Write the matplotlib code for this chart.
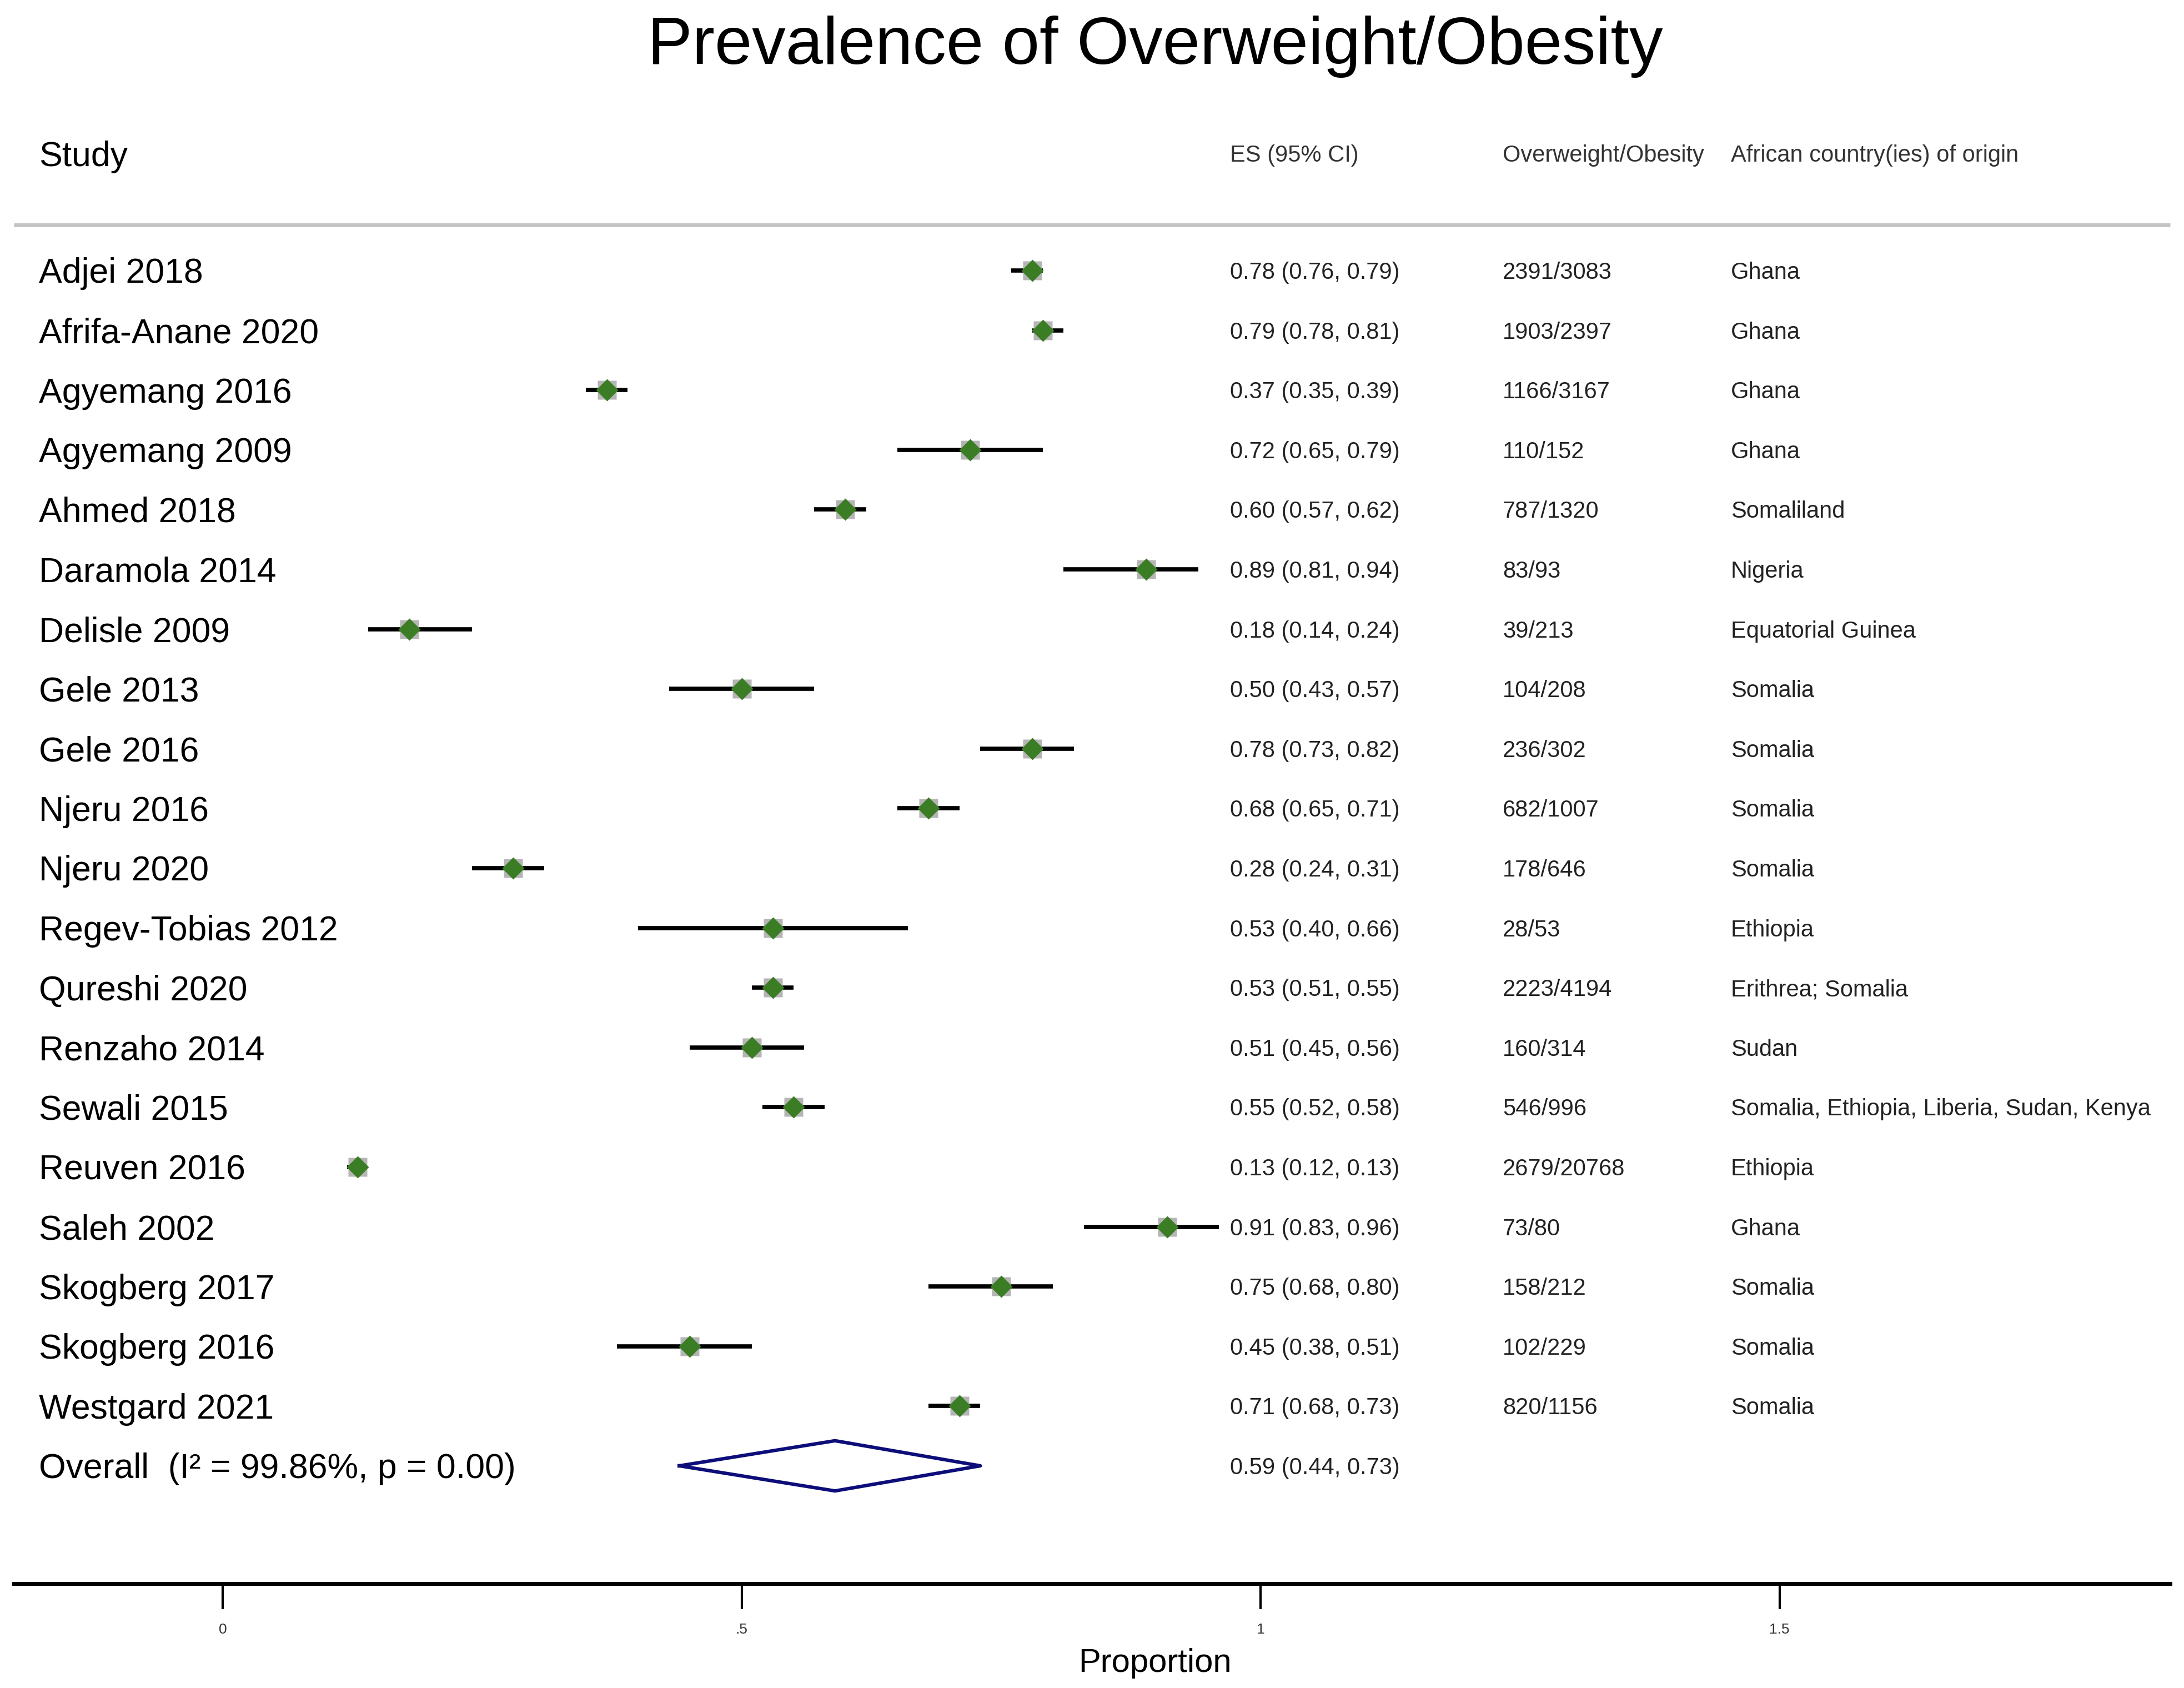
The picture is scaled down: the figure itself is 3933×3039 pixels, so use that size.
import numpy as np
import matplotlib
matplotlib.use("Agg")
from matplotlib import pyplot as plt

plt.rcParams['font.family'] = ['Liberation Sans', 'DejaVu Sans']

# study data
studies = ["Adjei 2018", "Afrifa-Anane 2020", "Agyemang 2016", "Agyemang 2009",
           "Ahmed 2018", "Daramola 2014", "Delisle 2009", "Gele 2013", "Gele 2016",
           "Njeru 2016", "Njeru 2020", "Regev-Tobias 2012", "Qureshi 2020",
           "Renzaho 2014", "Sewali 2015", "Reuven 2016", "Saleh 2002",
           "Skogberg 2017", "Skogberg 2016", "Westgard 2021"]
es = [0.78, 0.79, 0.37, 0.72, 0.60, 0.89, 0.18, 0.50, 0.78, 0.68,
      0.28, 0.53, 0.53, 0.51, 0.55, 0.13, 0.91, 0.75, 0.45, 0.71]
ci_lo = [0.76, 0.78, 0.35, 0.65, 0.57, 0.81, 0.14, 0.43, 0.73, 0.65,
         0.24, 0.40, 0.51, 0.45, 0.52, 0.12, 0.83, 0.68, 0.38, 0.68]
ci_hi = [0.79, 0.81, 0.39, 0.79, 0.62, 0.94, 0.24, 0.57, 0.82, 0.71,
         0.31, 0.66, 0.55, 0.56, 0.58, 0.13, 0.96, 0.80, 0.51, 0.73]
events = [2391, 1903, 1166, 110, 787, 83, 39, 104, 236, 682,
          178, 28, 2223, 160, 546, 2679, 73, 158, 102, 820]
totals = [3083, 2397, 3167, 152, 1320, 93, 213, 208, 302, 1007,
          646, 53, 4194, 314, 996, 20768, 80, 212, 229, 1156]
countries = ["Ghana", "Ghana", "Ghana", "Ghana", "Somaliland", "Nigeria",
             "Equatorial Guinea", "Somalia", "Somalia", "Somalia", "Somalia",
             "Ethiopia", "Erithrea; Somalia", "Sudan",
             "Somalia, Ethiopia, Liberia, Sudan, Kenya", "Ethiopia", "Ghana",
             "Somalia", "Somalia", "Somalia"]

overall_es, overall_lo, overall_hi = 0.59, 0.44, 0.73
overall_label = "Overall  (I\u00b2 = 99.86%, p = 0.00)"

xticks = [0, 0.5, 1, 1.5]
xticklabels = ["0", ".5", "1", "1.5"]

W, H = 3933, 3039
fig = plt.figure(figsize=(W / 100, H / 100), dpi=100)
fig.patch.set_facecolor("white")

# axes spans whole width, bottom spine is the x axis
ax_bottom = 1 - 2851 / H
ax = fig.add_axes([25 / W, ax_bottom, (3908 - 25) / W, 1 - ax_bottom])
ax.set_xlim(-0.2012, 1.8764)
row_px = 107.6
ax.set_ylim((2851 - 487) / row_px, -487 / row_px)

for s in ["top", "left", "right"]:
    ax.spines[s].set_visible(False)
ax.spines["bottom"].set_linewidth(5)
ax.set_yticks([])
ax.set_xticks(xticks)
ax.set_xticklabels(xticklabels, fontsize=19, color="#333333")
ax.tick_params(axis="x", direction="out", length=33, width=3, pad=18)


def px(v):
    # pixel offset -> row units
    return v / row_px


# study names / columns
x_name = (70 - 401) / 1869
x_es = (2215 - 401) / 1869
x_n = (2706 - 401) / 1869
x_cty = (3117 - 401) / 1869

name_fs = 45
col_fs = 30

for i in range(len(studies)):
    ax.plot([ci_lo[i], ci_hi[i]], [i, i], color="black", lw=5.5,
            solid_capstyle="butt", zorder=2)
    ax.plot(es[i], i, marker="s", ms=25, color="#b5b5b5", mec="none", zorder=3)
    ax.plot(es[i], i, marker="D", ms=20, color="#3b7d24", mec="none", zorder=4)

    ax.text(x_name, i + px(name_fs / 2), studies[i], fontsize=name_fs,
            va="baseline", ha="left", color="black", clip_on=False)
    ax.text(x_es, i + px(col_fs / 2),
            f"{es[i]:.2f} ({ci_lo[i]:.2f}, {ci_hi[i]:.2f})",
            fontsize=col_fs, va="baseline", ha="left", color="#222222")
    ax.text(x_n, i + px(col_fs / 2), f"{events[i]}/{totals[i]}",
            fontsize=col_fs, va="baseline", ha="left", color="#222222")
    ax.text(x_cty, i + px(col_fs / 2), countries[i],
            fontsize=col_fs, va="baseline", ha="left", color="#222222")

# overall diamond
k = len(studies)
dh = 0.42
ax.plot([overall_lo, overall_es, overall_hi, overall_es, overall_lo],
        [k, k - dh, k, k + dh, k], color="#0d0d7a", lw=4.5, zorder=3,
        solid_joinstyle="round")
ax.text(x_name, k + px(name_fs / 2), overall_label, fontsize=name_fs,
        va="baseline", ha="left", color="black", clip_on=False)
ax.text(x_es, k + px(col_fs / 2),
        f"{overall_es:.2f} ({overall_lo:.2f}, {overall_hi:.2f})",
        fontsize=col_fs, va="baseline", ha="left", color="#222222")

# header
hdr_y = (276 - 487) / row_px
ax.text(x_name, hdr_y + px(name_fs / 2), "Study", fontsize=name_fs,
        va="baseline", ha="left", color="black")
for xx, lab in [(x_es, "ES (95% CI)"), (x_n, "Overweight/Obesity"),
                (x_cty, "African country(ies) of origin")]:
    ax.text(xx, hdr_y + px(15), lab, fontsize=30, va="baseline", ha="left",
            color="#333333")

ax.plot([-0.2012, 1.8764], [(405 - 487) / row_px] * 2, color="#c4c4c4",
        lw=5, solid_capstyle="butt", clip_on=False)

# title
ax.text((2080 - 401) / 1869, (115 - 487) / row_px,
        "Prevalence of Overweight/Obesity", fontsize=87, ha="center",
        va="baseline", color="black")

fig.text(2080 / W, 1 - 2995 / H, "Proportion", fontsize=43, ha="center",
         va="center", color="black")

fig.savefig("out.png", dpi=100, facecolor="white")
